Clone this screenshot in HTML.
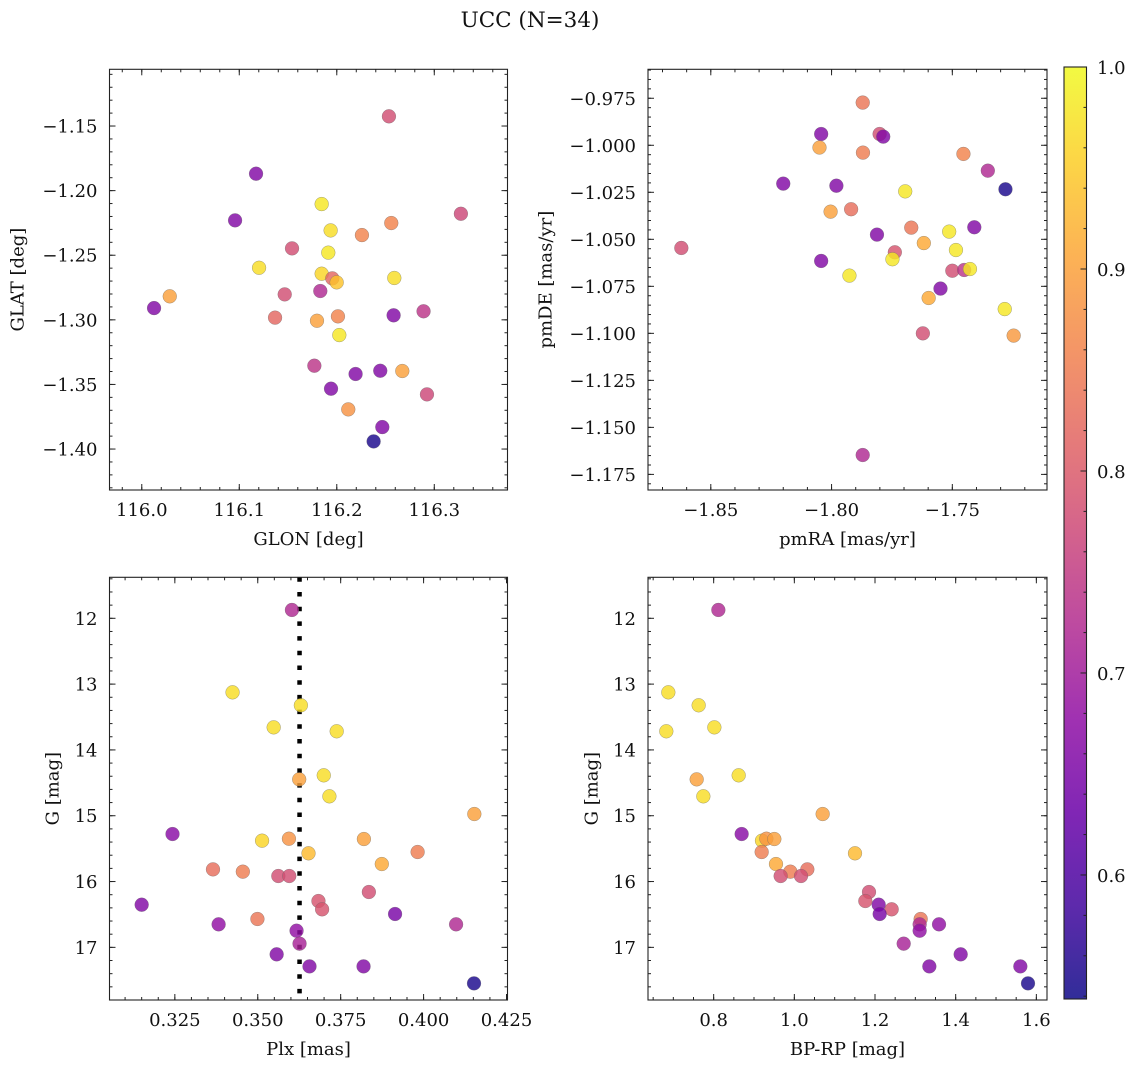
<!DOCTYPE html>
<html><head><meta charset="utf-8"><title>UCC (N=34)</title>
<style>
html,body{margin:0;padding:0;background:#fff;}
svg{display:block;font-family:"DejaVu Serif","Liberation Serif",serif;}
</style></head>
<body>
<svg id="fig" width="1136" height="1067" viewBox="0 0 1136 1067" xmlns="http://www.w3.org/2000/svg">
<rect x="0" y="0" width="1136" height="1067" fill="#fff"/>
<text x="530" y="27" font-size="21.5" text-anchor="middle" fill="#111">UCC (N=34)</text>
</svg>
<script>
// ---- data ----
const glon = [116.2535,116.1172,116.3273,116.0957,116.1845,116.1937,116.2258,116.2559,116.1541,116.1913,116.1203,116.1845,116.1954,116.1999,116.259,116.1466,116.1831,116.0287,116.0126,116.1367,116.2012,116.1797,116.2583,116.289,116.2026,116.177,116.1941,116.2193,116.2446,116.2672,116.2925,116.2118,116.2467,116.2378];
const glat = [-1.1425,-1.1869,-1.2179,-1.223,-1.2104,-1.2308,-1.2344,-1.2251,-1.2447,-1.248,-1.2597,-1.2643,-1.2679,-1.271,-1.2676,-1.2803,-1.2777,-1.2818,-1.2909,-1.2983,-1.2973,-1.3007,-1.2965,-1.2934,-1.3118,-1.3355,-1.3533,-1.3419,-1.3394,-1.3396,-1.3577,-1.3693,-1.383,-1.3941];
const probSky = [0.78,0.66,0.77,0.66,0.98,0.97,0.86,0.86,0.78,0.98,0.97,0.96,0.82,0.94,0.97,0.78,0.72,0.9,0.66,0.82,0.86,0.9,0.66,0.74,0.98,0.74,0.66,0.66,0.66,0.9,0.77,0.88,0.66,0.55];

const pmra = [-1.7871,-1.8043,-1.7801,-1.7786,-1.805,-1.787,-1.7454,-1.7353,-1.82,-1.798,-1.728,-1.7695,-1.8004,-1.7919,-1.767,-1.7409,-1.7812,-1.7513,-1.7618,-1.7485,-1.8622,-1.8043,-1.7738,-1.7748,-1.7926,-1.75,-1.7451,-1.7427,-1.7549,-1.7598,-1.7283,-1.7246,-1.7622,-1.7871];
const pmde = [-0.9773,-0.994,-0.994,-0.9954,-1.0012,-1.0039,-1.0046,-1.0135,-1.0204,-1.0215,-1.0234,-1.0245,-1.0353,-1.034,-1.0438,-1.0436,-1.0475,-1.0459,-1.052,-1.0557,-1.0546,-1.0615,-1.0569,-1.0606,-1.0693,-1.0667,-1.0663,-1.0658,-1.0762,-1.0812,-1.0871,-1.1012,-1.1,-1.1647];
const probPM = [0.84,0.66,0.78,0.66,0.9,0.85,0.86,0.72,0.66,0.66,0.55,0.98,0.9,0.83,0.84,0.66,0.66,0.98,0.91,0.98,0.78,0.66,0.79,0.98,0.98,0.78,0.74,0.98,0.66,0.91,0.98,0.89,0.78,0.72];

const plx = [0.3603,0.3424,0.363,0.3548,0.3738,0.3625,0.3699,0.3716,0.4153,0.3243,0.3513,0.3594,0.382,0.3653,0.3982,0.3874,0.3365,0.3455,0.3562,0.3595,0.3835,0.315,0.3683,0.3694,0.3914,0.3382,0.3499,0.4098,0.3617,0.3626,0.3557,0.3656,0.3819,0.4152];
const bprp = [0.8116,0.6876,0.7628,0.8017,0.6826,0.7579,0.862,0.7744,1.0702,0.8694,0.9198,0.9306,0.9504,1.1504,0.919,0.9545,1.0322,0.9901,0.9661,1.0165,1.1851,1.2091,1.176,1.2413,1.2116,1.3587,1.3132,1.3107,1.3107,1.2711,1.4124,1.3347,1.5603,1.5793];
const gmag = [11.873,13.125,13.322,13.657,13.717,14.447,14.386,14.705,14.974,15.278,15.379,15.349,15.354,15.571,15.551,15.734,15.815,15.85,15.916,15.916,16.159,16.352,16.296,16.422,16.493,16.65,16.569,16.65,16.747,16.944,17.106,17.289,17.289,17.547];
const probPhot = [0.72,0.97,0.97,0.97,0.97,0.9,0.97,0.97,0.9,0.67,0.96,0.88,0.9,0.93,0.85,0.91,0.83,0.85,0.78,0.78,0.78,0.66,0.79,0.79,0.65,0.68,0.84,0.72,0.68,0.71,0.66,0.66,0.66,0.55];
const plxMedian = [0.3626];

const ticksGlon = [116.0,116.1,116.2,116.3];
const ticksGlat = [-1.15,-1.20,-1.25,-1.30,-1.35,-1.40];
const ticksPmra = [-1.85,-1.80,-1.75];
const ticksPmde = [-0.975,-1.000,-1.025,-1.050,-1.075,-1.100,-1.125,-1.150,-1.175];
const ticksPlx = [0.325,0.350,0.375,0.400,0.425];
const ticksBprp = [0.8,1.0,1.2,1.4,1.6];
const ticksG = [12,13,14,15,16,17];
const ticksCbar = [0.6,0.7,0.8,0.9,1.0];
const cbarRange = [0.5386,1.0];

// ---- helpers ----
const NS = "http://www.w3.org/2000/svg";
const svg = document.getElementById('fig');
const FS = 18;
function el(tag, attrs, parent){
  const e = document.createElementNS(NS, tag);
  for (const k in attrs) e.setAttribute(k, attrs[k]);
  (parent||svg).appendChild(e);
  return e;
}
function scale(d0,d1,p0,p1){ return v => p0 + (v-d0)/(d1-d0)*(p1-p0); }
const plasma = [[13,8,135],[65,4,157],[106,0,168],[143,13,164],[177,42,144],[204,71,120],[225,100,98],[242,132,75],[252,166,54],[252,206,37],[240,249,33]];
function cmap(v){
  let t = (v-cbarRange[0])/(cbarRange[1]-cbarRange[0]);
  t = Math.max(0, Math.min(1, t));
  const f = t*10, i = Math.min(9, Math.floor(f)), r = f-i;
  const a = plasma[i], b = plasma[i+1];
  return 'rgb(' + [0,1,2].map(k => Math.round(a[k]+(b[k]-a[k])*r)).join(',') + ')';
}
function fmt(v, d){ const s = Math.abs(v).toFixed(d); return (v < -1e-12 ? '\u2212' : '') + s; }

function panel(cfg){
  const g = el('g', {});
  
  
  const sx = scale(cfg.xd[0], cfg.xd[1], cfg.L, cfg.R);
  const sy = scale(cfg.yd[0], cfg.yd[1], cfg.B, cfg.T);
  if (cfg.vline){
    cfg.vline.forEach(v => {
      const ln = el('line', {x1:sx(v), x2:sx(v), y1:cfg.T, y2:cfg.B, stroke:'#000', 'stroke-width':4.5, 'stroke-dasharray':'4.5 10.2'}, g);
      
      
    });
  }
  for (let i=0;i<cfg.xs.length;i++){
    const c = el('circle', {cx:sx(cfg.xs[i]), cy:sy(cfg.ys[i]), r:6.9, fill:cmap(cfg.cs[i]), 'fill-opacity':0.82, stroke:'#666', 'stroke-opacity':0.6, 'stroke-width':0.5}, g);
    
    
  }
  const fr = el('rect', {x:cfg.L, y:cfg.T, width:cfg.R-cfg.L, height:cfg.B-cfg.T, fill:'none', stroke:'#222', 'stroke-width':1.1}, g);
  
  
  const tk = el('g', {stroke:'#222', 'stroke-width':1}, g);
  
  
  function xtick(v, len){ const x = sx(v); if (x < cfg.L-0.5 || x > cfg.R+0.5) return;
    el('line',{x1:x,x2:x,y1:cfg.B,y2:cfg.B-len},tk); el('line',{x1:x,x2:x,y1:cfg.T,y2:cfg.T+len},tk); }
  function ytick(v, len){ const y = sy(v); if (y < cfg.T-0.5 || y > cfg.B+0.5) return;
    el('line',{x1:cfg.L,x2:cfg.L+len,y1:y,y2:y},tk); el('line',{x1:cfg.R,x2:cfg.R-len,y1:y,y2:y},tk); }
  const xlo = Math.min(...cfg.xd), xhi = Math.max(...cfg.xd);
  for (let k=Math.ceil(xlo/cfg.xm-1e-6); k*cfg.xm<=xhi+1e-9; k++) xtick(k*cfg.xm, 3);
  const ylo = Math.min(...cfg.yd), yhi = Math.max(...cfg.yd);
  for (let k=Math.ceil(ylo/cfg.ym-1e-6); k*cfg.ym<=yhi+1e-9; k++) ytick(k*cfg.ym, 3);
  cfg.xt.forEach(v => xtick(v, 6));
  cfg.yt.forEach(v => ytick(v, 6));
  cfg.xt.forEach(v => {
    const x = sx(v); if (x < cfg.L-1 || x > cfg.R+1) return;
    const t = el('text', {x:x, y:cfg.B+26, 'font-size':FS, 'text-anchor':'middle', fill:'#111'}, g);
    t.textContent = fmt(v, cfg.xdec);
    
    
  });
  cfg.yt.forEach(v => {
    const y = sy(v); if (y < cfg.T-1 || y > cfg.B+1) return;
    const t = el('text', {x:cfg.L-12, y:y+6.5, 'font-size':FS, 'text-anchor':'end', fill:'#111'}, g);
    t.textContent = fmt(v, cfg.ydec);
    
    
  });
  const xt = el('text', {x:(cfg.L+cfg.R)/2, y:cfg.B+55, 'font-size':FS, 'text-anchor':'middle', fill:'#111'}, g);
  xt.textContent = cfg.xlabel;
  
  
  const ym = (cfg.T+cfg.B)/2;
  const yt = el('text', {x:cfg.ylx, y:ym, 'font-size':FS, 'text-anchor':'middle', 'dominant-baseline':'central', fill:'#111', transform:'rotate(-90 '+cfg.ylx+' '+ym+')'}, g);
  yt.textContent = cfg.ylabel;
  
  
}

panel({name:'sky-panel', L:109.5, R:507.5, T:69.3, B:490, xd:[115.9669,116.3751], yd:[-1.4317,-1.1061],
  xs:glon, ys:glat, cs:probSky, xt:ticksGlon, yt:ticksGlat, xm:0.02, ym:0.01, xdec:1, ydec:2,
  xlabel:'GLON [deg]', ylabel:'GLAT [deg]', ylx:18});
panel({name:'proper-motion-panel', L:648, R:1047, T:69.3, B:490, xd:[-1.876,-1.7108], yd:[-1.1833,-0.9596],
  xs:pmra, ys:pmde, cs:probPM, xt:ticksPmra, yt:ticksPmde, xm:0.01, ym:0.005, xdec:2, ydec:3,
  xlabel:'pmRA [mas/yr]', ylabel:'pmDE [mas/yr]', ylx:546});
panel({name:'parallax-panel', L:109.5, R:507.5, T:577.3, B:1000, xd:[0.3053,0.4253], yd:[17.80,11.377],
  xs:plx, ys:gmag, cs:probPhot, xt:ticksPlx, yt:ticksG, xm:0.005, ym:0.2, xdec:3, ydec:0,
  xlabel:'Plx [mas]', ylabel:'G [mag]', ylx:53, vline:plxMedian});
panel({name:'cmd-panel', L:648, R:1047, T:577.3, B:1000, xd:[0.6372,1.6264], yd:[17.80,11.377],
  xs:bprp, ys:gmag, cs:probPhot, xt:ticksBprp, yt:ticksG, xm:0.05, ym:0.2, xdec:1, ydec:0,
  xlabel:'BP-RP [mag]', ylabel:'G [mag]', ylx:592});

// ---- colorbar ----
(function(){
  const g = el('g', {});
  
  
  const L=1064, R=1086.5, T=67, B=999;
  const sy = scale(cbarRange[0], cbarRange[1], B, T);
  const defs = el('defs', {}, g);
  const lg = el('linearGradient', {id:'cbg', x1:0, y1:1, x2:0, y2:0}, defs);
  for (let i=0;i<=20;i++){
    const v = cbarRange[0] + (cbarRange[1]-cbarRange[0])*i/20;
    el('stop', {offset:(i/20), 'stop-color':cmap(v), 'stop-opacity':0.85}, lg);
  }
  el('rect', {x:L, y:T, width:R-L, height:B-T, fill:'url(#cbg)', stroke:'#222', 'stroke-width':1.1}, g);
  for (let k=Math.ceil(cbarRange[0]/0.02); k*0.02<=cbarRange[1]+1e-9; k++){
    const y = sy(k*0.02);
    el('line', {x1:R, x2:R-3, y1:y, y2:y, stroke:'#222', 'stroke-width':1}, g);
  }
  ticksCbar.forEach(v => {
    const y = sy(v);
    el('line', {x1:R, x2:R-6, y1:y, y2:y, stroke:'#222', 'stroke-width':1}, g);
    const t = el('text', {x:1097, y:y+7, 'font-size':FS, fill:'#111'}, g);
    t.textContent = v.toFixed(1);
    
    
  });
})();
</script>
</body></html>
